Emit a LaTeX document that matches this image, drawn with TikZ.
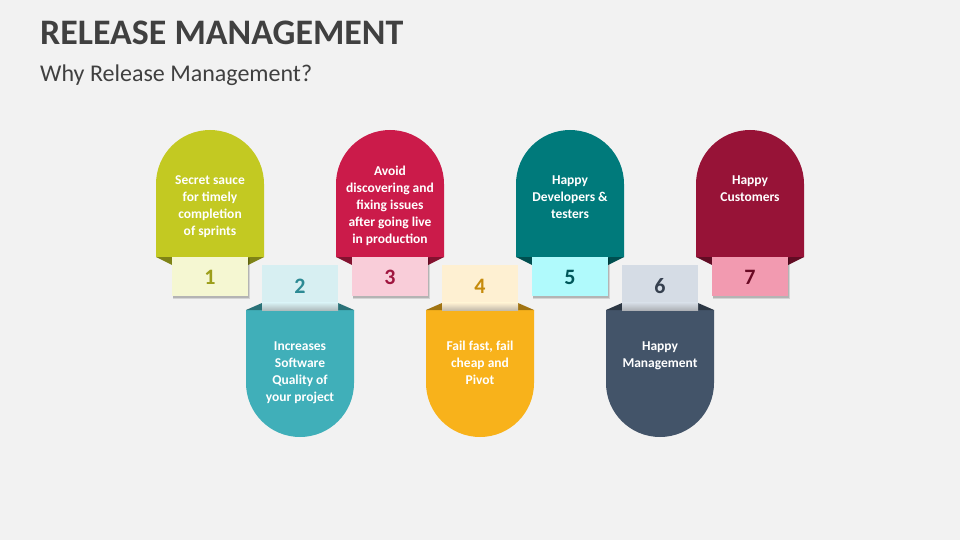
\documentclass[tikz,border=0pt]{standalone}
\usepackage{fontspec}
\setmainfont{Carlito}
\definecolor{bg}{HTML}{F2F2F2}
\definecolor{ttl}{HTML}{404040}
\definecolor{sA}{HTML}{C3C922}\definecolor{bA}{HTML}{F5F7D2}\definecolor{nA}{HTML}{9C9E1A}
\definecolor{sB}{HTML}{40AFB9}\definecolor{bB}{HTML}{D7EFF2}\definecolor{nB}{HTML}{2D8A94}
\definecolor{sC}{HTML}{CB1B4A}\definecolor{bC}{HTML}{F9CDD9}\definecolor{nC}{HTML}{A0163F}
\definecolor{sD}{HTML}{F8B21B}\definecolor{bD}{HTML}{FEF0D2}\definecolor{nD}{HTML}{C68B0C}
\definecolor{sE}{HTML}{007A7B}\definecolor{bE}{HTML}{B0FAFC}\definecolor{nE}{HTML}{00575A}
\definecolor{sF}{HTML}{435469}\definecolor{bF}{HTML}{D5DCE5}\definecolor{nF}{HTML}{36404F}
\definecolor{sG}{HTML}{971337}\definecolor{bG}{HTML}{F29AB0}\definecolor{nG}{HTML}{6A0A24}
\tikzset{
  itemtext/.style={text=white, align=center, inner sep=0pt, anchor=north,
    font=\fontsize{13.5}{17}\selectfont\bfseries},
  numtext/.style={inner sep=0pt, font=\fontsize{22}{24}\selectfont\bfseries},
}
% #1 name, #2 center x, #3 colour letter, #4 number, #5 text top y, #6 text
\newcommand\relUp[6]{%
  \fill[s#3] (#2-54,257) -- (#2-54,184) arc[start angle=180, end angle=360, radius=54] -- (#2+54,257) -- cycle;
  \fill[s#3!65!black] (#2-54,257) -- (#2-38,257) -- (#2-38,265) -- cycle;
  \fill[s#3!65!black] (#2+38,257) -- (#2+54,257) -- (#2+38,265) -- cycle;
  \fill[black, opacity=0.12] (#2-37,258) rectangle (#2+40,299);
  \fill[black, opacity=0.15] (#2-37,258) rectangle (#2+39,297.5);
  \fill[b#3] (#2-38,257) rectangle (#2+38,296);
  \node[numtext, text=n#3] (#1n) at (#2,277) {#4};
  \node[itemtext] (#1t) at (#2,#5) {\strut #6};
}
\newcommand\relDown[6]{%
  \fill[s#3] (#2-54,310) -- (#2-54,383) arc[start angle=180, end angle=0, radius=54] -- (#2+54,310) -- cycle;
  \fill[s#3!65!black] (#2-54,310) -- (#2-38,303) -- (#2-38,310) -- cycle;
  \fill[s#3!65!black] (#2+38,303) -- (#2+54,310) -- (#2+38,310) -- cycle;
  \fill[b#3] (#2-38,265) rectangle (#2+38,303);
  \shade[top color=b#3, bottom color=b#3!55!gray] (#2-38,302.8) rectangle (#2+38,310);
  \node[numtext, text=n#3] (#1n) at (#2,286) {#4};
  \node[itemtext] (#1t) at (#2,#5) {\strut #6};
}
\begin{document}
\begin{tikzpicture}[x=1pt, y=-1pt]
\fill[bg] (0,0) rectangle (960,540);
\useasboundingbox (0,0) rectangle (960,540);
\node[anchor=base west, inner sep=0pt, text=ttl, font=\fontsize{35.9}{40}\selectfont\bfseries] (title) at (40,45) {RELEASE MANAGEMENT};
\node[anchor=base west, inner sep=0pt, text=ttl, font=\fontsize{24}{28}\selectfont] (subtitle) at (40,82) {Why Release Management?};
\relDown{i2}{300}{B}{2}{338}{Increases\\Software\\Quality of\\your project}
\relDown{i4}{480}{D}{4}{338}{Fail fast, fail\\cheap and\\Pivot}
\relDown{i6}{660}{F}{6}{338}{Happy\\Management}
\relUp{i1}{210}{A}{1}{172.5}{Secret sauce\\for timely\\completion\\of sprints}
\relUp{i3}{390}{C}{3}{163.5}{Avoid\\discovering and\\fixing issues\\after going live\\in production}
\relUp{i5}{570}{E}{5}{172.5}{Happy\\Developers \&\\testers}
\relUp{i7}{750}{G}{7}{172.5}{Happy\\Customers}
\end{tikzpicture}
\end{document}
